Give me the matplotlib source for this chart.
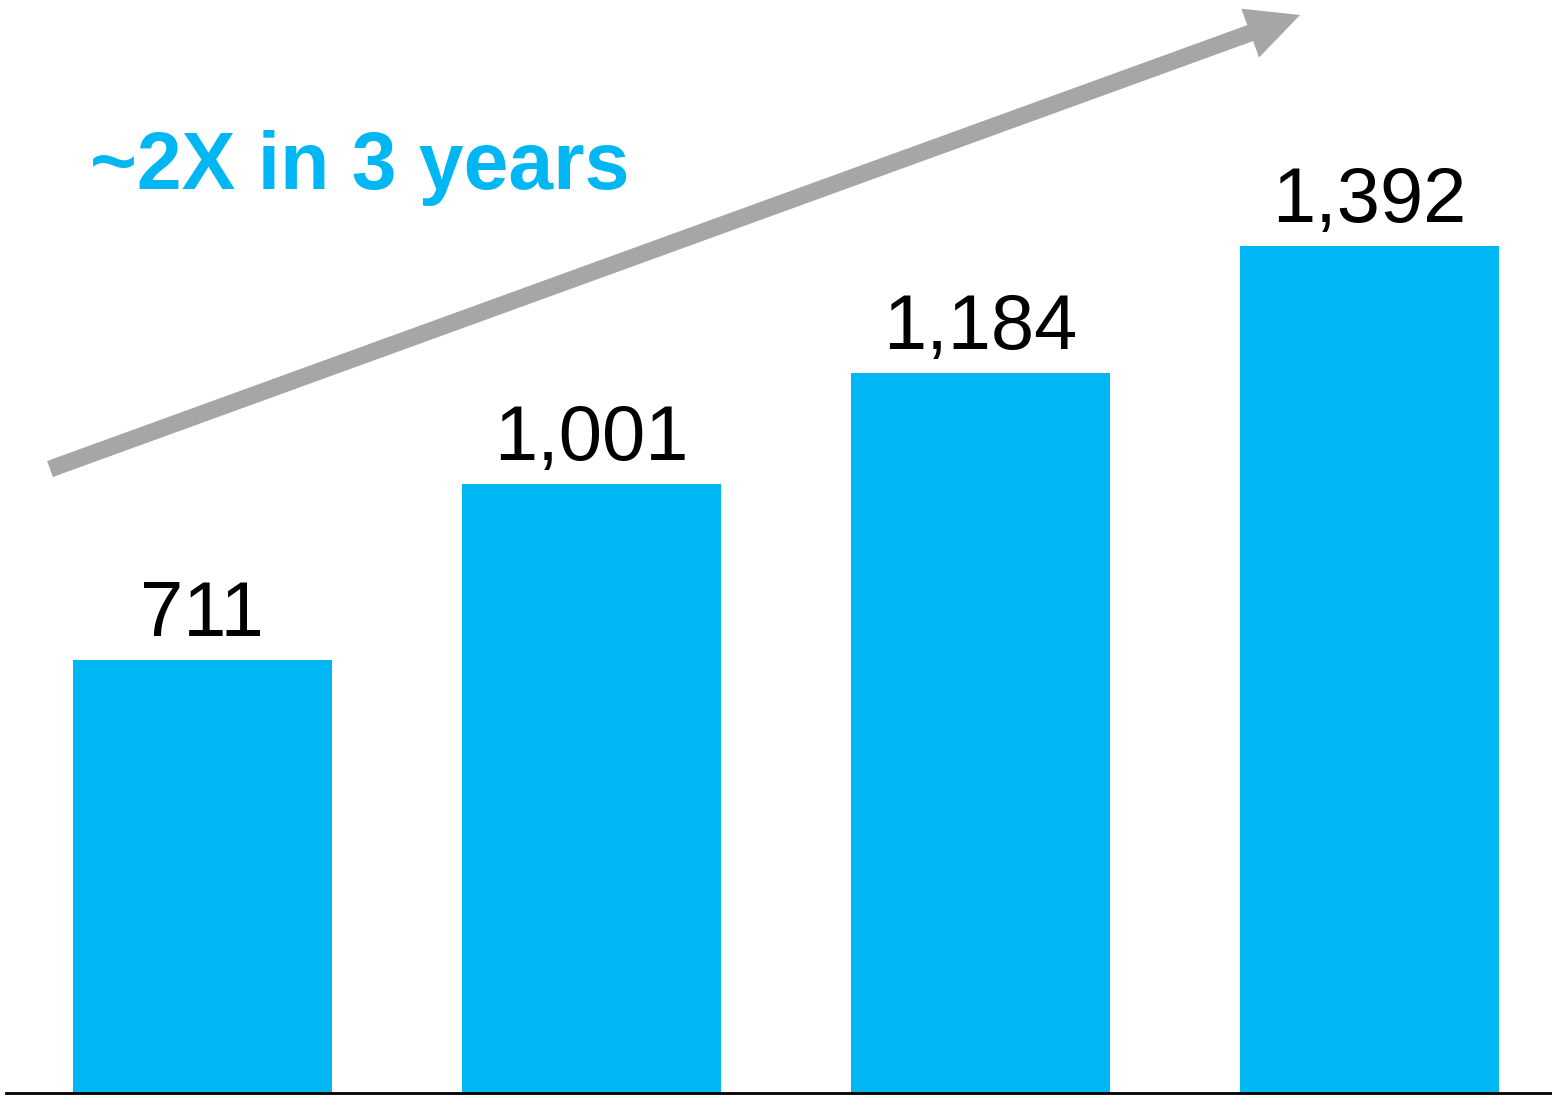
import matplotlib
matplotlib.use("Agg")
import matplotlib.pyplot as plt
from matplotlib.patches import FancyArrow

# Yearly totals
years = ["Year 1", "Year 2", "Year 3", "Year 4"]
values = [711, 1001, 1184, 1392]
value_labels = ["711", "1,001", "1,184", "1,392"]
headline = "~2X in 3 years"

BAR_COLOR = "#00B7F3"
ARROW_COLOR = "#A6A6A6"

W, H, DPI = 15.52, 10.96, 100
fig = plt.figure(figsize=(W, H), dpi=DPI)
fig.patch.set_facecolor("white")

# Axes spanning the figure; baseline sits just above the bottom edge
base_px = 3
ax = fig.add_axes([0, base_px / 1096, 1, 1 - base_px / 1096])
px_per_unit_y = 847 / 1392
ax.set_ylim(0, (1096 - base_px) / px_per_unit_y)
spacing = 389.0
ax.set_xlim(-202 / spacing, (1552 - 202) / spacing)
ax.axis("off")

x = list(range(len(values)))
bars = ax.bar(x, values, width=259 / spacing, color=BAR_COLOR, zorder=2)

for xi, v, lab in zip(x, values, value_labels):
    ax.annotate(lab, xy=(xi, v), xytext=(0, 24 * 72 / DPI), textcoords="offset points",
                ha="center", va="baseline", fontsize=56,
                family="Liberation Sans", color="black")

# Baseline
ax.axhline(0, xmin=6 / 1552, xmax=1.0, color="black", linewidth=2.0,
           zorder=3, clip_on=False)

# Headline
fig.text(90 / 1552, 1 - 189 / 1096, headline, ha="left", va="baseline",
         fontsize=58, fontweight="bold", family="Liberation Sans", color=BAR_COLOR)

# Growth arrow (inch coordinates)
tail = (50 / DPI, (1096 - 469) / DPI)
tip = (1300 / DPI, (1096 - 15) / DPI)
arrow = FancyArrow(tail[0], tail[1], tip[0] - tail[0], tip[1] - tail[1],
                   width=0.17, head_width=0.52, head_length=0.53,
                   length_includes_head=True, color=ARROW_COLOR, linewidth=0,
                   transform=fig.dpi_scale_trans)
fig.add_artist(arrow)

fig.savefig("out.png", dpi=DPI, facecolor="white")
